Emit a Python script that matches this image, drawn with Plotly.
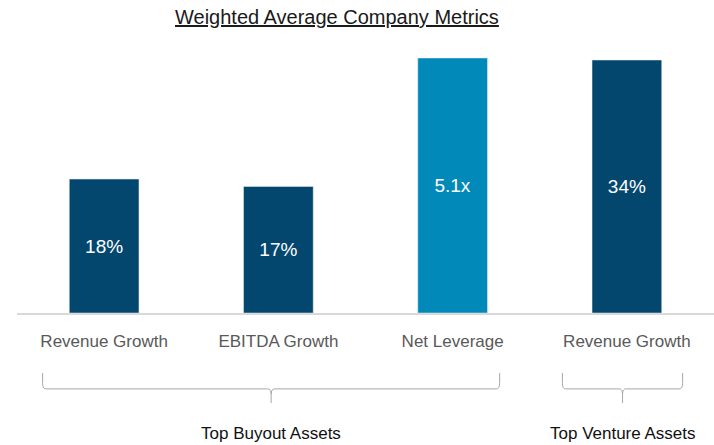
import plotly.graph_objects as go

# Metric categories and values
categories = ["Revenue Growth", "EBITDA Growth", "Net Leverage", "Revenue Growth"]
pct_values = [18, 17, None, 34]          # percentage metrics
lev_values = [None, None, 5.1, None]     # leverage multiple
pct_labels = ["18%", "17%", "", "34%"]
lev_labels = ["", "", "5.1x", ""]
groups = ["Top Buyout Assets", "Top Venture Assets"]

DARK = "#03476f"
LIGHT = "#0089b9"
FONT = "Liberation Sans"

x = list(range(len(categories)))

fig = go.Figure()
fig.add_trace(go.Bar(
    x=x, y=pct_values, width=0.4, marker_color=DARK,
    text=pct_labels, textposition="inside", insidetextanchor="middle",
    textfont=dict(color="white", size=19, family=FONT),
    yaxis="y", hoverinfo="skip",
))
fig.add_trace(go.Bar(
    x=x, y=lev_values, width=0.4, marker_color=LIGHT,
    text=lev_labels, textposition="inside", insidetextanchor="middle",
    textfont=dict(color="white", size=19, family=FONT),
    yaxis="y2", hoverinfo="skip",
))

# Braces under each group of categories (left/right ends in category units)
brace_ends = [(-0.353, 2.27), (2.63, 3.32)]
shapes = []
annotations = []
y_top, y_h, y_tip, r = -0.22, -0.278, -0.33, 0.02
d = 0.02
for (x0, x1), name in zip(brace_ends, groups):
    xc = (x0 + x1) / 2
    path = (
        f"M {x0},{y_top} L {x0},{y_h + r} Q {x0},{y_h} {x0 + d},{y_h} "
        f"L {xc - d},{y_h} Q {xc},{y_h} {xc},{y_h - r} L {xc},{y_tip} "
        f"M {xc},{y_h - r} Q {xc},{y_h} {xc + d},{y_h} "
        f"L {x1 - d},{y_h} Q {x1},{y_h} {x1},{y_h + r} L {x1},{y_top}"
    )
    shapes.append(dict(type="path", path=path, xref="x", yref="paper",
                       line=dict(color="#a6a6a6", width=1)))
    annotations.append(dict(text=name, x=xc, y=-0.443, xref="x", yref="paper",
                            showarrow=False, yanchor="middle",
                            font=dict(size=17, color="#111111", family=FONT)))

annotations.append(dict(
    text="<u>Weighted Average Company Metrics</u>",
    x=(336.5 - 17) / 697, y=1.086, xref="paper", yref="paper",
    showarrow=False, xanchor="center", yanchor="middle",
    font=dict(size=20, color="#1a1a1a", family=FONT),
))

fig.update_layout(
    width=714, height=445,
    margin=dict(l=17, r=0, t=40, b=132),
    paper_bgcolor="white", plot_bgcolor="white",
    barmode="overlay", showlegend=False,
    font=dict(family=FONT),
    xaxis=dict(
        tickmode="array", tickvals=x, ticktext=categories,
        range=[-0.5, len(categories) - 0.5],
        showline=True, linecolor="#d9d9d9", linewidth=2,
        showgrid=False, zeroline=False, ticks="",
        tickfont=dict(size=17, color="#595959", family=FONT),
        ticklabelstandoff=12,
    ),
    yaxis=dict(range=[0, 36.69], visible=False, showgrid=False),
    yaxis2=dict(range=[0, 5.46], visible=False, overlaying="y", showgrid=False),
    shapes=shapes,
    annotations=annotations,
)

fig.write_html("out.html")
